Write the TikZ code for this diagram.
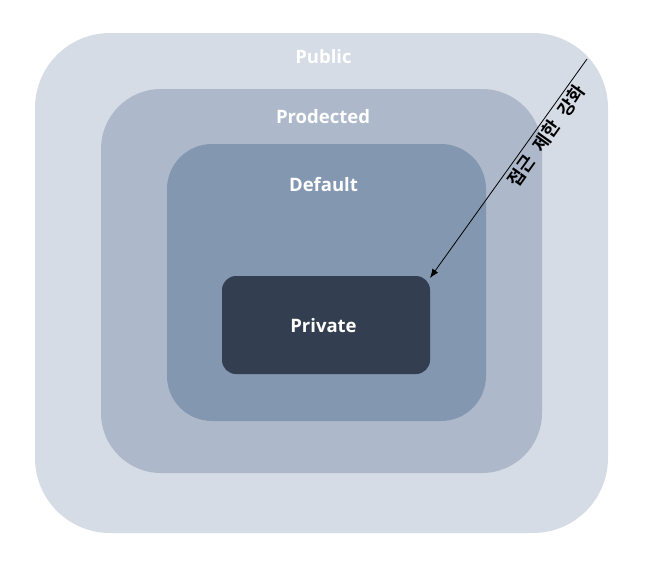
\documentclass[tikz,border=0pt]{standalone}
\usepackage{fontspec}
\setmainfont{Open Sans}
\newfontfamily\krfont{Noto Sans CJK KR Bold}
\usetikzlibrary{arrows.meta}
\definecolor{cPublic}{HTML}{D6DCE5}
\definecolor{cProt}{HTML}{ADB9CA}
\definecolor{cDef}{HTML}{8497B0}
\definecolor{cPriv}{HTML}{333F50}
\tikzset{
  layer/.style={rectangle, draw=none, inner sep=0pt, outer sep=0pt},
  lbl/.style={text=white, font=\fontsize{18.5}{22}\selectfont\bfseries, inner sep=0pt},
}
\begin{document}
\begin{tikzpicture}[x=1pt,y=-1pt]
\useasboundingbox (0,0) rectangle (662,566);
\node[layer, fill=cPublic, rounded corners=75pt, minimum width=573pt, minimum height=500pt] (pub) at (321.5,283) {};
\node[layer, fill=cProt, rounded corners=60pt, minimum width=441pt, minimum height=384pt] (prot) at (321.5,281) {};
\node[layer, fill=cDef, rounded corners=45pt, minimum width=319pt, minimum height=277pt] (def) at (326.5,282.5) {};
\node[layer, fill=cPriv, rounded corners=14pt, minimum width=208pt, minimum height=98pt] (priv) at (326,325) {};
\node[lbl] (tpub) at (323.5,57) {Public};
\node[lbl] (tprot) at (323,117) {Prodected};
\node[lbl] (tdef) at (323.5,185) {Default};
\node[lbl] (tpriv) at (323.5,326) {Private};
\coordinate (s) at (587,59);
\draw[line width=0.8pt, -{Latex[length=9pt,width=7pt]}] (s) -- node[pos=0.32, sloped, below=3pt, inner sep=0pt, font=\krfont\fontsize{18}{21}\selectfont] (tk) {접근\hspace{0.55em}제한\hspace{0.55em}강화} ([yshift=-2pt]priv.north east);
\end{tikzpicture}
\end{document}
